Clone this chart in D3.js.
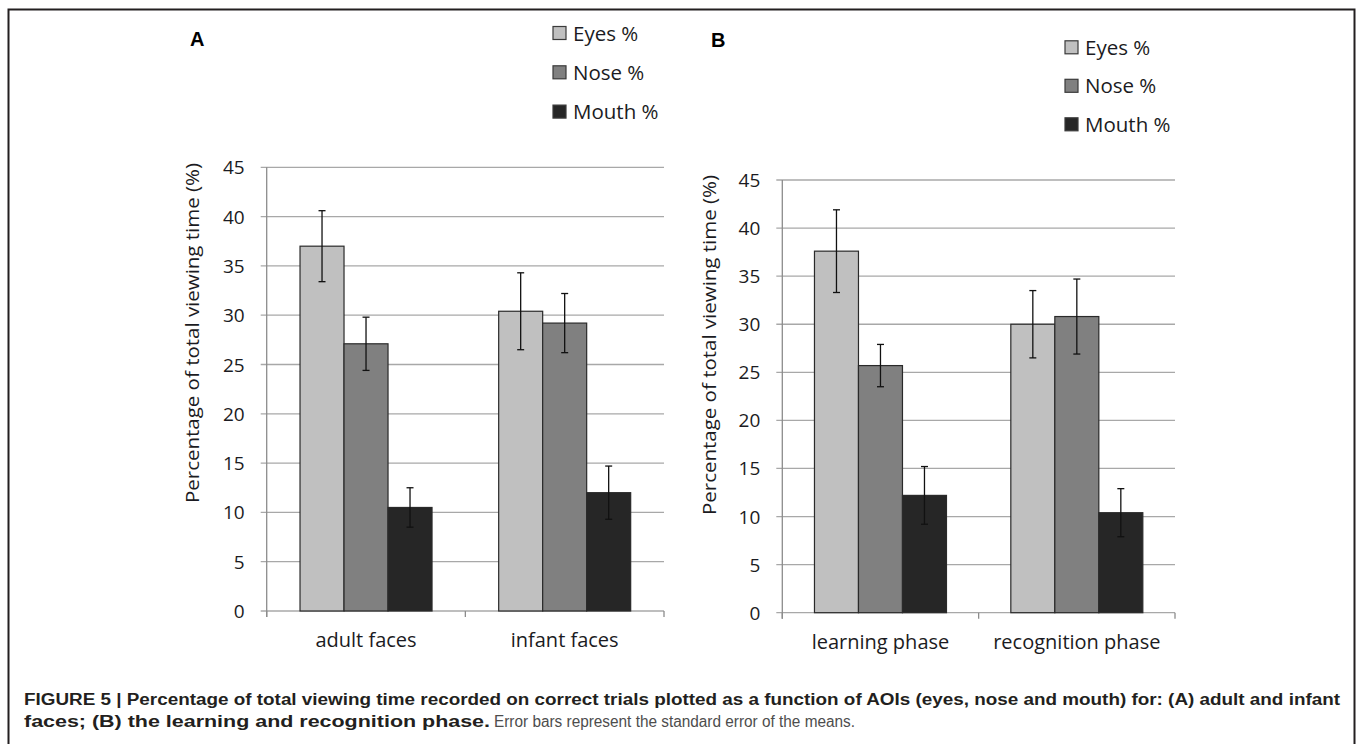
<!DOCTYPE html>
<html>
<head>
<meta charset="utf-8">
<script src="https://cdnjs.cloudflare.com/ajax/libs/d3/7.8.5/d3.min.js"></script>
<style>
  body { margin: 0; background: #fff; }
  svg { display: block; }
</style>
</head>
<body>
<svg id="fig" width="1357" height="744"></svg>
<script>
// data
const seriesNames = ["Eyes %", "Nose %", "Mouth %"];
const seriesColors = ["#c0c0c0", "#808080", "#262626"];
const yTicks = [0, 5, 10, 15, 20, 25, 30, 35, 40, 45];

const catsA = ["adult faces", "infant faces"];
const eyesA = [37.0, 30.4];
const noseA = [27.1, 29.2];
const mouthA = [10.5, 12.0];
const eyesErrA = [3.6, 3.9];
const noseErrA = [2.7, 3.0];
const mouthErrA = [2.0, 2.7];

const catsB = ["learning phase", "recognition phase"];
const eyesB = [37.6, 30.0];
const noseB = [25.7, 30.8];
const mouthB = [12.2, 10.4];
const eyesErrB = [4.3, 3.5];
const noseErrB = [2.2, 3.9];
const mouthErrB = [3.0, 2.5];

const svg = d3.select("#fig");
const tickFont = "'Open Sans', 'Noto Sans', sans-serif";
const textCol = "#1b1b22";

// outer frame
svg.append("rect")
    .attr("x", 8.5).attr("y", 9.5)
    .attr("width", 1346).attr("height", 760)
    .attr("fill", "none")
    .attr("stroke", "#231f20")
    .attr("stroke-width", 2);

const drawPanel = function (cfg) {
    const g = svg.append("g");
    const y = d3.scaleLinear().domain([0, 45]).range([cfg.bottom, cfg.top]);
    const x0 = d3.scaleBand().domain(cfg.cats).range([cfg.left, cfg.right]);
    const bw = x0.bandwidth();
    const grp = 132;
    const x1 = d3.scaleBand().domain(seriesNames).range([(bw - grp) / 2, (bw + grp) / 2]);

    // gridlines
    g.selectAll("line.grid").data(yTicks).enter().append("line")
        .attr("x1", cfg.left - 6).attr("x2", cfg.right)
        .attr("y1", d => y(d)).attr("y2", d => y(d))
        .attr("stroke", "#a8a8a8").attr("stroke-width", 1.3);

    // y axis line
    g.append("line")
        .attr("x1", cfg.left).attr("x2", cfg.left)
        .attr("y1", cfg.top).attr("y2", cfg.bottom + 6)
        .attr("stroke", "#8c8c8c").attr("stroke-width", 1.3);

    // x axis ticks at band edges
    const edges = cfg.cats.map(c => x0(c)).concat([cfg.right]);
    g.selectAll("line.xt").data(edges).enter().append("line")
        .attr("x1", d => d).attr("x2", d => d)
        .attr("y1", cfg.bottom).attr("y2", cfg.bottom + 6)
        .attr("stroke", "#8c8c8c").attr("stroke-width", 1.3);

    // y tick labels
    g.selectAll("text.yt").data(yTicks).enter().append("text")
        .attr("x", cfg.left - 22)
        .attr("y", d => y(d) + 7)
        .attr("text-anchor", "end")
        .attr("font-family", tickFont)
        .attr("font-size", 19)
        .attr("fill", textCol)
        .text(d => d);

    // x labels
    g.selectAll("text.xl").data(cfg.cats).enter().append("text")
        .attr("x", d => x0(d) + x1("Nose %") + x1.bandwidth() / 2)
        .attr("y", cfg.bottom + 36)
        .attr("text-anchor", "middle")
        .attr("font-family", tickFont)
        .attr("font-size", 20)
        .attr("fill", textCol)
        .text(d => d);

    // y title
    g.append("text")
        .attr("transform", `translate(${cfg.titleX},${cfg.titleY}) rotate(-90)`)
        .attr("text-anchor", "middle")
        .attr("font-family", tickFont)
        .attr("font-size", 17.5)
        .attr("fill", textCol)
        .attr("textLength", 340)
        .attr("lengthAdjust", "spacingAndGlyphs")
        .text("Percentage of total viewing time (%)");

    // bars
    const rows = [];
    cfg.cats.forEach((c, i) => {
        seriesNames.forEach((s, j) => {
            rows.push({cat: c, s: s, v: cfg.vals[j][i], e: cfg.errs[j][i], col: seriesColors[j]});
        });
    });
    g.selectAll("rect.bar").data(rows).enter().append("rect")
        .attr("x", d => x0(d.cat) + x1(d.s))
        .attr("y", d => y(d.v))
        .attr("width", x1.bandwidth())
        .attr("height", d => y(0) - y(d.v))
        .attr("fill", d => d.col)
        .attr("stroke", "#2a2a2a")
        .attr("stroke-width", 1.2);

    // error bars
    const cx = d => x0(d.cat) + x1(d.s) + x1.bandwidth() / 2;
    const eb = g.selectAll("g.eb").data(rows).enter().append("g")
        .attr("stroke", "#111").attr("stroke-width", 1.3);
    eb.append("line")
        .attr("x1", cx).attr("x2", cx)
        .attr("y1", d => y(d.v + d.e)).attr("y2", d => y(d.v - d.e));
    eb.append("line")
        .attr("x1", d => cx(d) - 3.5).attr("x2", d => cx(d) + 3.5)
        .attr("y1", d => y(d.v + d.e)).attr("y2", d => y(d.v + d.e));
    eb.append("line")
        .attr("x1", d => cx(d) - 3.5).attr("x2", d => cx(d) + 3.5)
        .attr("y1", d => y(d.v - d.e)).attr("y2", d => y(d.v - d.e));

    // legend
    const lg = g.selectAll("g.lg").data(seriesNames).enter().append("g")
        .attr("transform", (d, i) => `translate(${cfg.legX},${cfg.legY + i * cfg.legStep})`);
    lg.append("rect")
        .attr("x", 0).attr("y", -6.5)
        .attr("width", 13).attr("height", 13)
        .attr("fill", (d, i) => seriesColors[i])
        .attr("stroke", "#3a3a3a").attr("stroke-width", 1.2);
    lg.append("text")
        .attr("x", 20).attr("y", 7.5)
        .attr("font-family", tickFont)
        .attr("font-size", 20.5)
        .attr("fill", textCol)
        .text(d => d);

    // panel letter
    g.append("text")
        .attr("x", cfg.letX).attr("y", cfg.letY)
        .attr("font-family", "'Liberation Sans', Arial, sans-serif")
        .attr("font-weight", "bold")
        .attr("font-size", 20)
        .attr("fill", "#000")
        .text(cfg.letter);
};

drawPanel({
    cats: catsA, vals: [eyesA, noseA, mouthA], errs: [eyesErrA, noseErrA, mouthErrA],
    left: 266.7, right: 664, top: 167.3, bottom: 611,
    titleX: 199, titleY: 333,
    legX: 553, legY: 33, legStep: 39.3,
    letX: 190, letY: 46, letter: "A"
});
drawPanel({
    cats: catsB, vals: [eyesB, noseB, mouthB], errs: [eyesErrB, noseErrB, mouthErrB],
    left: 782.3, right: 1175, top: 180, bottom: 612.7,
    titleX: 716, titleY: 345,
    legX: 1065, legY: 47.3, legStep: 38.5,
    letX: 711, letY: 47, letter: "B"
});

// caption
const capFont = "'Liberation Sans', Arial, sans-serif";
svg.append("text")
    .attr("x", 24).attr("y", 705)
    .attr("font-family", capFont).attr("font-weight", "bold").attr("font-size", 16)
    .attr("fill", "#231f20")
    .attr("textLength", 1316).attr("lengthAdjust", "spacingAndGlyphs")
    .text("FIGURE 5 | Percentage of total viewing time recorded on correct trials plotted as a function of AOIs (eyes, nose and mouth) for: (A) adult and infant");
svg.append("text")
    .attr("x", 24).attr("y", 727)
    .attr("font-family", capFont).attr("font-weight", "bold").attr("font-size", 16)
    .attr("fill", "#231f20")
    .attr("textLength", 466).attr("lengthAdjust", "spacingAndGlyphs")
    .text("faces; (B) the learning and recognition phase.");
svg.append("text")
    .attr("x", 494).attr("y", 727)
    .attr("font-family", capFont).attr("font-size", 16)
    .attr("fill", "#4d4d4d")
    .attr("textLength", 361).attr("lengthAdjust", "spacingAndGlyphs")
    .text("Error bars represent the standard error of the means.");
</script>
</body>
</html>
